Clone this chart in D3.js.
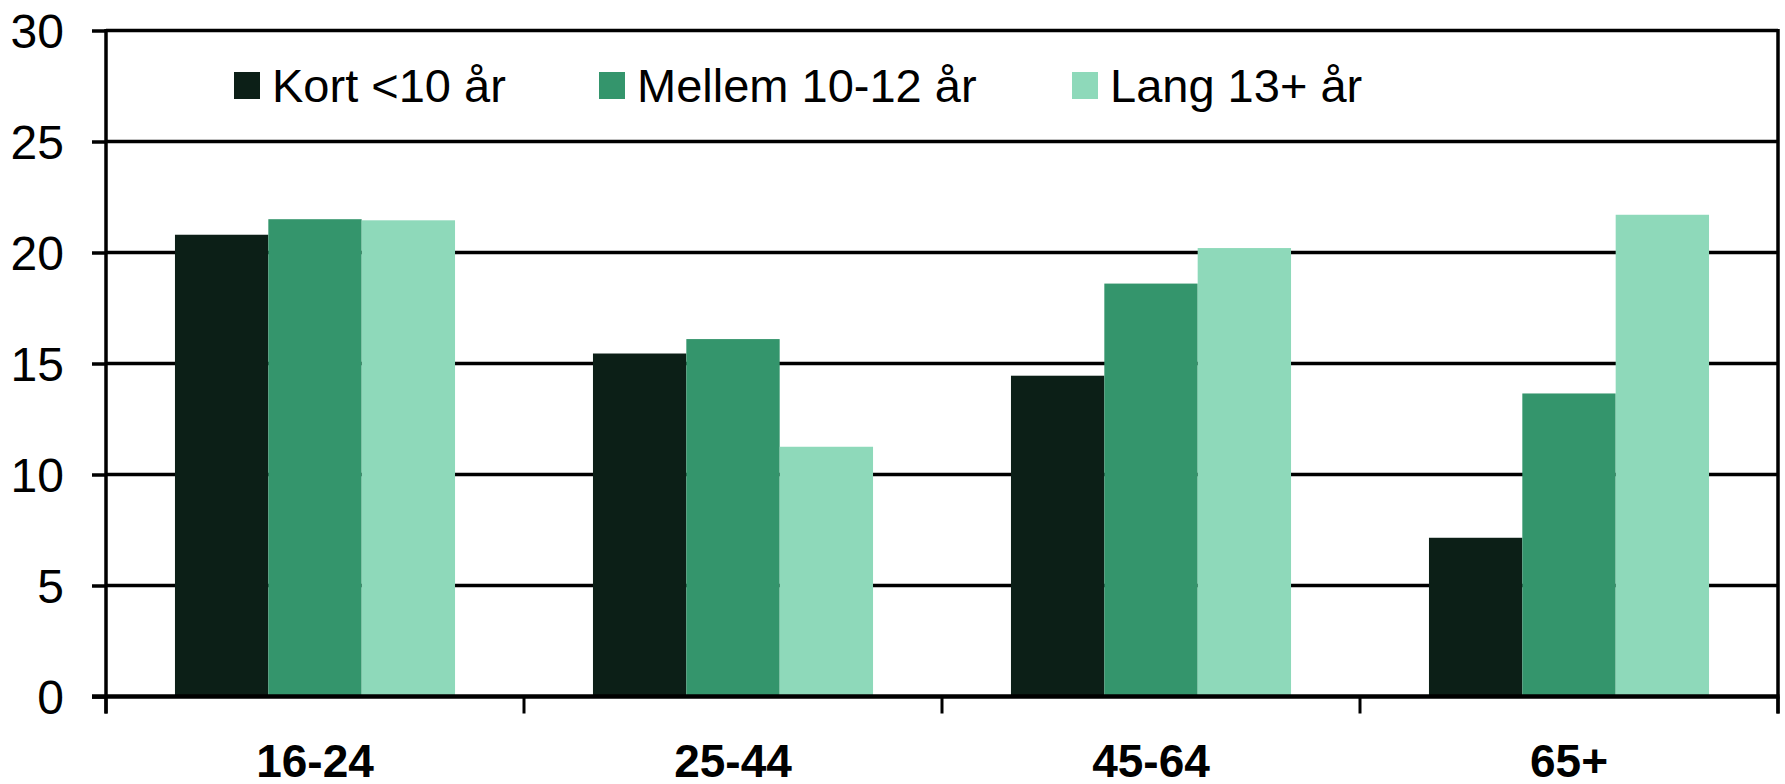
<!DOCTYPE html>
<html>
<head>
<meta charset="utf-8">
<script src="https://d3js.org/d3.v7.min.js"></script>
<style>
    body { margin: 0; background: #fff; }
    text { font-family: "Liberation Sans", Arial, sans-serif; fill: #000; }
</style>
</head>
<body>
<div id="chart"></div>
<script>
var groups = ["16-24", "25-44", "45-64", "65+"];
var series = ["Kort <10 år", "Mellem 10-12 år", "Lang 13+ år"];
var kort = [20.8, 15.45, 14.45, 7.15];
var mellem = [21.5, 16.1, 18.6, 13.65];
var lang = [21.45, 11.25, 20.2, 21.7];
var yTicks = [0, 5, 10, 15, 20, 25, 30];
var colors = ["#0c1f17", "#34956c", "#8ed9ba"];

var values = [kort, mellem, lang];
var rows = groups.map((g, i) => ({ group: g, vals: values.map(v => v[i]) }));

var plotL = 106, plotR = 1778, plotT = 30.5, plotB = 696.5;

var x0 = d3.scaleBand()
    .domain(groups)
    .range([plotL, plotR])
    .paddingInner(0.33)
    .paddingOuter(0.165);
var x1 = d3.scaleBand()
    .domain(d3.range(series.length))
    .range([0, x0.bandwidth()]);
var y = d3.scaleLinear()
    .domain([0, 30])
    .range([plotB, plotT]);

var svg = d3.select("#chart")
    .append("svg")
    .attr("width", 1785)
    .attr("height", 784);

// gridlines (behind bars)
svg.append("g")
    .selectAll("line")
    .data(yTicks.filter(t => t > 0))
    .enter().append("line")
    .attr("x1", plotL).attr("x2", plotR)
    .attr("y1", d => y(d)).attr("y2", d => y(d))
    .attr("stroke", "#000")
    .attr("stroke-width", 3.5);

// bars
svg.append("g")
    .selectAll("g")
    .data(rows).enter().append("g")
    .attr("transform", d => "translate(" + x0(d.group) + ",0)")
    .selectAll("rect")
    .data(d => d.vals.map((v, i) => ({ i: i, v: v })))
    .enter().append("rect")
    .attr("x", d => x1(d.i))
    .attr("width", x1.bandwidth())
    .attr("y", d => y(d.v))
    .attr("height", d => y(0) - y(d.v))
    .attr("fill", d => colors[d.i]);

// right border
svg.append("line")
    .attr("x1", plotR).attr("x2", plotR)
    .attr("y1", y(30) - 1.5).attr("y2", y(0) + 17)
    .attr("stroke", "#000").attr("stroke-width", 3.5);

// y axis
var yAxis = d3.axisLeft(y)
    .tickValues(yTicks)
    .tickSize(14)
    .tickPadding(28)
    .tickFormat(d3.format("d"));
var gy = svg.append("g")
    .attr("transform", "translate(" + plotL + ",0)")
    .call(yAxis);
gy.select(".domain").remove();
gy.selectAll(".tick line").attr("stroke", "#000").attr("stroke-width", 3.5);
gy.selectAll(".tick text")
    .style("font-size", "48px")
    .attr("dy", "0.36em");
gy.append("line")
    .attr("x1", 0).attr("x2", 0)
    .attr("y1", y(30) - 1.5).attr("y2", y(0) + 17)
    .attr("stroke", "#000").attr("stroke-width", 3.5);

// x axis: category boundaries as ticks
var bounds = groups.map(g => x0(g) - (x0.step() - x0.bandwidth()) / 2).concat([plotR]);
svg.append("g")
    .selectAll("line")
    .data(bounds).enter().append("line")
    .attr("x1", d => d).attr("x2", d => d)
    .attr("y1", y(0)).attr("y2", y(0) + 17)
    .attr("stroke", "#000").attr("stroke-width", 3);
svg.append("line")
    .attr("x1", plotL - 14).attr("x2", plotR + 1.5)
    .attr("y1", y(0)).attr("y2", y(0))
    .attr("stroke", "#000").attr("stroke-width", 4.5);
svg.append("g")
    .selectAll("text")
    .data(groups).enter().append("text")
    .attr("x", d => x0(d) + x0.bandwidth() / 2)
    .attr("y", 777)
    .attr("text-anchor", "middle")
    .style("font-size", "46px")
    .style("font-weight", "bold")
    .text(d => d);

// legend
var legendX = [234, 599, 1072];
var legend = svg.append("g")
    .selectAll("g")
    .data(series).enter().append("g")
    .attr("transform", (d, i) => "translate(" + legendX[i] + ",72)");
legend.append("rect")
    .attr("width", 26).attr("height", 27)
    .attr("fill", (d, i) => colors[i]);
legend.append("text")
    .attr("x", 38)
    .attr("y", 30)
    .style("font-size", "47px")
    .text(d => d);
</script>
</body>
</html>
